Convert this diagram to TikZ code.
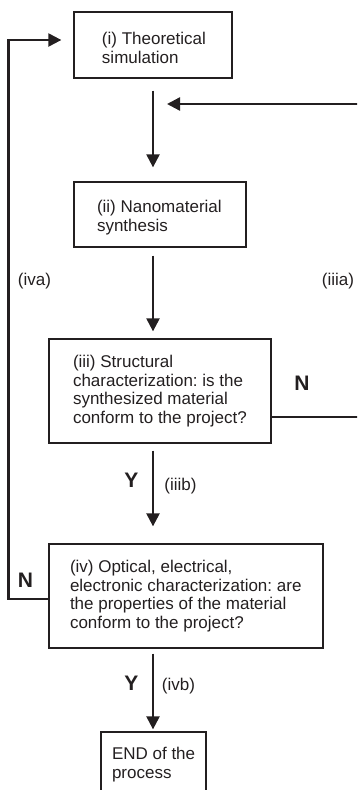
\documentclass[tikz,border=0pt]{standalone}
\usepackage{fontspec}
\setmainfont{Liberation Sans}
\usetikzlibrary{arrows.meta}
\frenchspacing
\definecolor{ink}{HTML}{231F20}
\tikzset{
  box/.style={draw=ink, line width=1.3pt, inner sep=0pt, text=ink,
    font=\fontsize{17}{18.7}\selectfont},
  arr/.style={draw=ink, line width=2.3pt, -{Triangle[width=13pt,length=13pt]}},
  lbl/.style={font=\fontsize{17}{18.7}\selectfont, inner sep=0pt, text=ink},
  yn/.style={font=\fontsize{21}{21}\selectfont\bfseries, inner sep=0pt, text=ink},
}
% #1 box width, #2 left padding, #3 text
\newcommand\boxtext[3]{\makebox[#1pt][l]{\hspace*{#2pt}\parbox[c]{\dimexpr#1pt-#2pt\relax}{\raggedright #3}}}
\newcommand\topstrut{\rule{0pt}{18.4pt}}
\begin{document}
\begin{tikzpicture}[x=1pt,y=-1pt]
\useasboundingbox (0,0) rectangle (357,790);
\clip (0,0) rectangle (357,790);
% boxes
\node[box, minimum width=158pt, minimum height=66pt] (b1) at (153,45)
  {\boxtext{158}{28}{\topstrut(i) Theoretical\\simulation}};
\node[box, minimum width=172pt, minimum height=65pt] (b2) at (160,214.5)
  {\boxtext{172}{23}{\topstrut(ii) Nanomaterial\\synthesis}};
\node[box, minimum width=222pt, minimum height=104pt] (b3) at (160,391)
  {\boxtext{222}{24}{(iii) Structural\\characterization: is the\\synthesized material\\conform to the project?}};
\node[box, minimum width=274pt, minimum height=104pt] (b4) at (186,596)
  {\boxtext{274}{21}{(iv) Optical, electrical,\\electronic characterization: are\\the properties of the material\\conform to the project?}};
\node[box, minimum width=105pt, minimum height=65pt] (b5) at (153.5,764.5)
  {\boxtext{105}{11}{END of the\\process}};
% spine and junction
\coordinate (spine) at (153,0);
\coordinate (j) at (153,104);
% vertical arrows
\draw[arr, shorten <=12pt, shorten >=14pt] (spine |- b1.south) -- (spine |- b2.north);
\draw[arr, shorten <=8pt, shorten >=7pt] (spine |- b2.south) -- (spine |- b3.north);
\draw[arr, shorten <=7pt, shorten >=17pt] (spine |- b3.south) -- (spine |- b4.north);
\draw[arr, shorten <=5pt, shorten >=2pt] (spine |- b4.south) -- (spine |- b5.north);
% loops
\draw[arr, shorten >=12pt] ([yshift=-3pt]b4.west) -- ++(-40,0) |- ([yshift=5pt]b1.west);
\draw[arr, shorten >=14pt] ([yshift=-26pt]b3.east) -- ++(100,0) |- (j);
% labels
\node[lbl] (la) at (34.5,281) {(iva)};
\node[lbl] (lb) at (338,281) {(iiia)};
\node[yn] (n1) at (302,383.5) {N};
\node[yn] (n2) at (25.5,580) {N};
\node[yn] (y1) at (131.5,480.5) {Y};
\node[lbl] (l3b) at (180.5,486) {(iiib)};
\node[yn] (y2) at (131.5,683) {Y};
\node[lbl] (l4b) at (178.5,686) {(ivb)};
\end{tikzpicture}
\end{document}
